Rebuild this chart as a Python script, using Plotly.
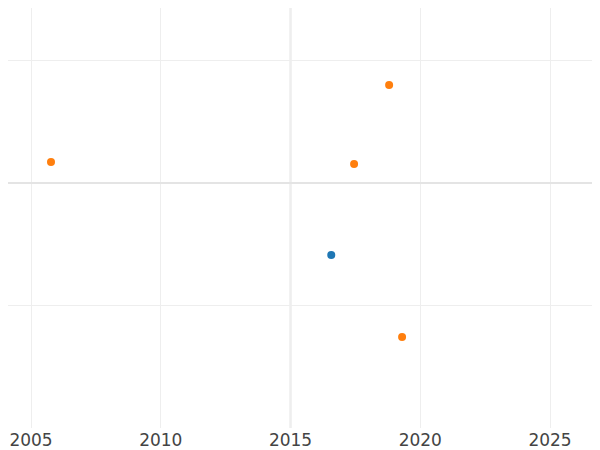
import plotly.graph_objects as go

orange_x = [2005.77, 2017.45, 2018.80, 2019.30]
orange_y = [0.172, 0.156, 0.803, -1.262]
blue_x = [2016.57]
blue_y = [-0.59]

fig = go.Figure()
fig.add_trace(go.Scatter(x=blue_x, y=blue_y, mode="markers",
                         marker=dict(color="#1f77b4", size=8), showlegend=False))
fig.add_trace(go.Scatter(x=orange_x, y=orange_y, mode="markers",
                         marker=dict(color="#ff7f0e", size=8), showlegend=False))
fig.add_vline(x=2015, line=dict(color="#e4e4e4", width=2), layer="below")
fig.update_layout(
    width=600, height=450, margin=dict(l=0, r=0, t=0, b=30),
    plot_bgcolor="white", paper_bgcolor="white",
    font=dict(family="DejaVu Sans", size=17, color="#444"),
    xaxis=dict(range=[2004.113, 2027.235], tickvals=[2005, 2010, 2015, 2020, 2025],
               gridcolor="#eeeeee", zeroline=False, showline=False),
    yaxis=dict(range=[-2.008, 1.434], tickvals=[-1, 0, 1], showticklabels=False,
               gridcolor="#eeeeee", zeroline=True, zerolinecolor="#e4e4e4", zerolinewidth=2),
)
fig.write_html("out.html")
